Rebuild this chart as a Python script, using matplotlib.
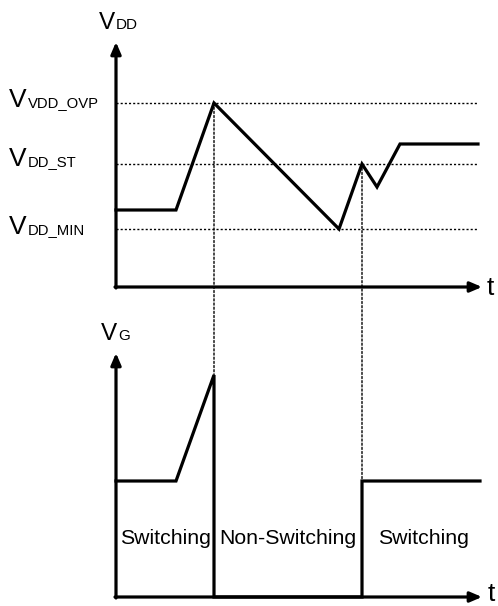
import matplotlib
matplotlib.use("Agg")
import matplotlib.pyplot as plt
from matplotlib.patches import ConnectionPatch

plt.rcParams['font.family'] = ['Liberation Sans', 'DejaVu Sans']

# ---- data (arbitrary units) ----
vdd_t = [0, 60, 98, 223, 246, 261, 284, 362]
vdd_v = [77, 77, 184, 58, 123, 100, 143, 143]
level_subs = ['VDD_OVP', 'DD_ST', 'DD_MIN']
level_values = [184, 123, 58]

vg_t = [0, 60, 98, 98, 246, 246, 364]
vg_v = [116, 116, 222, 0, 0, 116, 116]

region_labels = ['Switching', 'Non-Switching', 'Switching']
region_centers = [49, 172, 307]

W, H = 498, 606
fig = plt.figure(figsize=(W / 100, H / 100), dpi=100)

def px_axes(x0, y_bottom, x1, y_top):
    return fig.add_axes([x0 / W, 1 - y_bottom / H, (x1 - x0) / W, (y_bottom - y_top) / H])

lw = 2.3
arrow = dict(arrowstyle='-|>,head_length=0.7,head_width=0.3', lw=lw, color='black',
             shrinkA=0, shrinkB=0)

# top panel
ax1 = px_axes(116, 287, 482, 42)
ax1.set_xlim(0, 366)
ax1.set_ylim(0, 245)
ax1.axis('off')
for v in level_values:
    ax1.plot([0, 362], [v, v], color='black', lw=1, ls=(0, (1.5, 1.5)))
ax1.plot(vdd_t, vdd_v, color='black', lw=lw, solid_joinstyle='miter', clip_on=False)
ax1.annotate('', xy=(366, 0), xytext=(-1, 0), arrowprops=arrow, annotation_clip=False)
ax1.annotate('', xy=(0, 245), xytext=(0, -1), arrowprops=arrow, annotation_clip=False)

# bottom panel
ax2 = px_axes(116, 597, 482, 353)
ax2.set_xlim(0, 366)
ax2.set_ylim(0, 244)
ax2.axis('off')
ax2.plot(vg_t, vg_v, color='black', lw=lw, solid_joinstyle='miter', clip_on=False)
ax2.annotate('', xy=(366, 0), xytext=(-1, 0), arrowprops=arrow, annotation_clip=False)
ax2.annotate('', xy=(0, 244), xytext=(0, -1), arrowprops=arrow, annotation_clip=False)
for lab, c in zip(region_labels, region_centers):
    ax2.text(c, 59, lab, ha='center', va='center', fontsize=15.3)

# dotted connectors between panels
for ta, va, vb in [(vdd_t[2], vdd_v[2], vg_v[2]), (vdd_t[4], vdd_v[4], vg_v[5])]:
    con = ConnectionPatch(xyA=(ta, va), coordsA=ax1.transData,
                          xyB=(ta, vb), coordsB=ax2.transData,
                          color='black', lw=1, ls=(0, (1.5, 1.5)))
    fig.add_artist(con)

# overlay for labels (pixel coordinates)
ov = fig.add_axes([0, 0, 1, 1])
ov.set_xlim(0, W)
ov.set_ylim(H, 0)
ov.axis('off')

def vlabel(x, yb, sub, vsize=19, ssize=10.7, gap=19):
    ov.text(x, yb, 'V', fontsize=vsize, ha='left', va='baseline')
    ov.text(x + gap, yb, sub, fontsize=ssize, ha='left', va='baseline')

vlabel(99, 29, 'DD', vsize=17.5, ssize=11, gap=17)
for sub, yb in zip(level_subs, [107, 166, 234]):
    vlabel(9, yb, sub)
vlabel(101, 340, 'G', vsize=17.5, ssize=11, gap=17)
ov.text(487, 295, 't', fontsize=19, ha='left', va='baseline')
ov.text(488, 601, 't', fontsize=19, ha='left', va='baseline')

fig.savefig('out.png', dpi=100)
